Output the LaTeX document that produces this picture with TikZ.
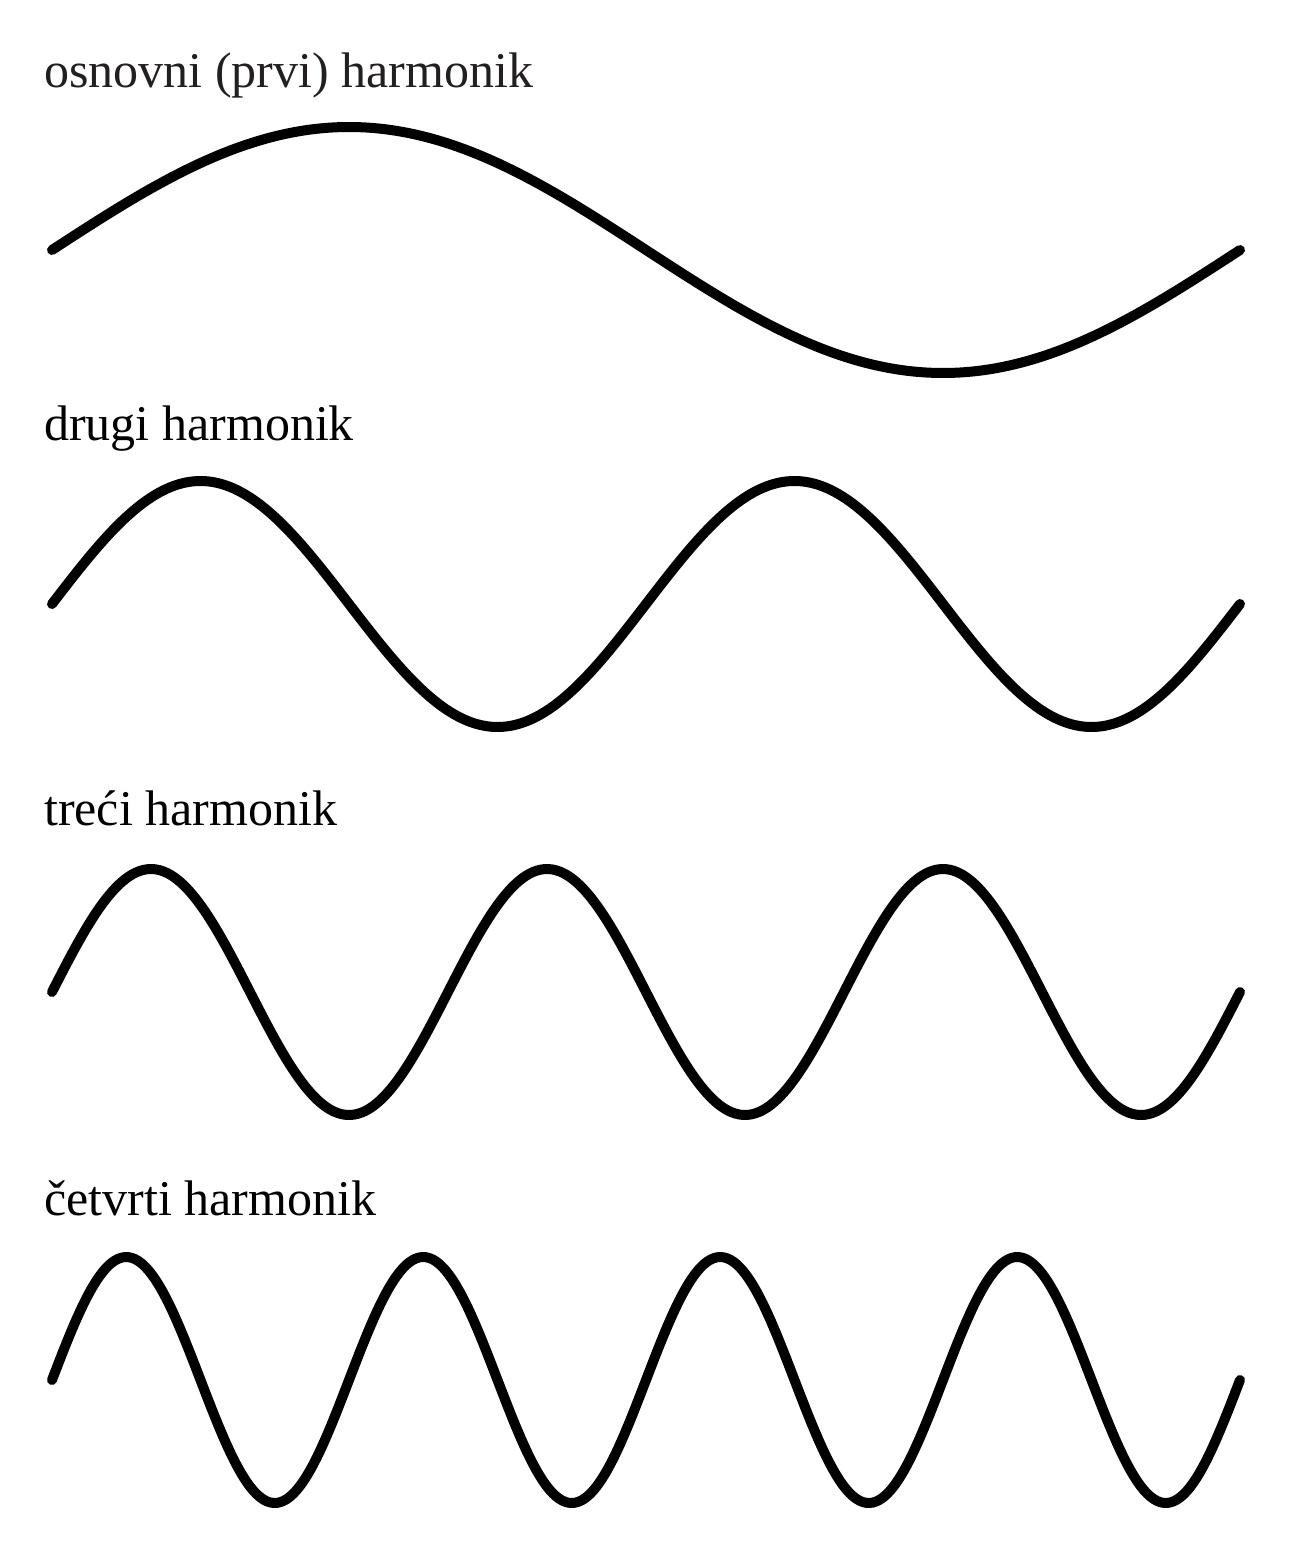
\documentclass[tikz,border=0pt]{standalone}
\usepackage{fontspec}
\setmainfont{Liberation Serif}
\definecolor{darkgraytext}{RGB}{35,31,32}
\begin{document}
\begin{tikzpicture}[x=1pt,y=-1pt,
  lbl/.style={anchor=base west,inner sep=0pt,font=\fontsize{50}{56}\selectfont},
  wave/.style={line width=10pt,line cap=round,line join=round,black}]
\useasboundingbox[fill=white] (0,0) rectangle (1290,1563);
\node[lbl,text=darkgraytext] (l1) at (44,87) {osnovni (prvi) harmonik};
\node[lbl] (l2) at (44,440) {drugi harmonik};
\node[lbl] (l3) at (44,825) {treći harmonik};
\node[lbl] (l4) at (44,1215) {četvrti harmonik};
\draw[wave] plot[domain=52:1240,samples=240,smooth] (\x,{250-123*sin(1*(\x-52)/1188*360)});
\draw[wave] plot[domain=52:1240,samples=240,smooth] (\x,{604-123*sin(2*(\x-52)/1188*360)});
\draw[wave] plot[domain=52:1240,samples=300,smooth] (\x,{992-123*sin(3*(\x-52)/1188*360)});
\draw[wave] plot[domain=52:1240,samples=360,smooth] (\x,{1380-123*sin(4*(\x-52)/1188*360)});
\end{tikzpicture}
\end{document}
